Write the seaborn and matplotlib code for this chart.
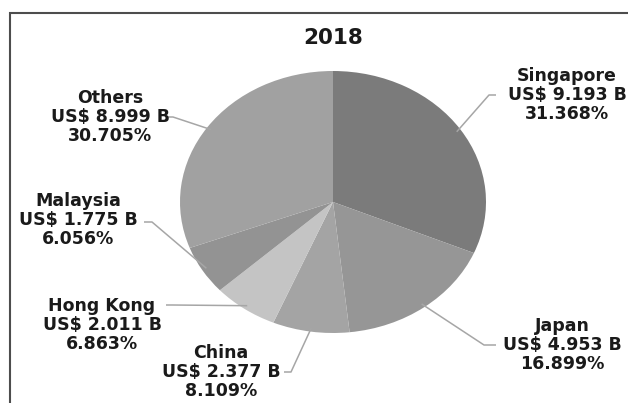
import matplotlib
matplotlib.use("Agg")
import matplotlib.pyplot as plt
import seaborn as sns
import numpy as np
from matplotlib.patches import Rectangle

# 2018 export destinations
countries = ["Singapore", "Japan", "China", "Hong Kong", "Malaysia", "Others"]
values_busd = [9.193, 4.953, 2.377, 2.011, 1.775, 8.999]
shares_pct = [31.368, 16.899, 8.109, 6.863, 6.056, 30.705]
chart_title = "2018"

slice_colors = ["#7b7b7b", "#969696", "#a4a4a4", "#c4c4c4", "#939393", "#a1a1a1"]

sns.set_theme(style="white")
plt.rcParams["font.family"] = ["DejaVu Sans"]

W, H = 628, 403
fig = plt.figure(figsize=(W / 100, H / 100), dpi=100)
fig.patch.set_facecolor("white")
ax = fig.add_axes([0, 0, 1, 1])

# pie centre and (elliptical) radii in pixels, y measured from the top
cx, cy, rx, ry = 333, 202, 153, 131

wedges, _ = ax.pie(shares_pct, colors=slice_colors, startangle=90,
                   counterclock=False, radius=1.0,
                   wedgeprops=dict(linewidth=0))
ax.set_aspect("auto")
ax.set_xlim(-cx / rx, (W - cx) / rx)
ax.set_ylim(-(H - cy) / ry, cy / ry)
ax.axis("off")


def px(x, y):
    """pixel position (y from top) -> data coordinates"""
    return ((x - cx) / rx, (cy - y) / ry)


# label block centre, leader-line start and elbow (pixels)
layout = {
    "Singapore": ((567, 95), (496, 95), (489, 95)),
    "Japan": ((562, 345), (496, 345), (484, 345)),
    "China": ((221, 372), (284, 372), (291, 372)),
    "Hong Kong": ((102, 325), (166, 305), (172, 305)),
    "Malaysia": ((78, 220), (144, 222), (152, 222)),
    "Others": ((110, 117), (167, 117), (173, 117)),
}

for w, name, val, pct in zip(wedges, countries, values_busd, shares_pct):
    mid = np.deg2rad((w.theta1 + w.theta2) / 2)
    tip = (0.97 * np.cos(mid), 0.97 * np.sin(mid))
    (tx, ty), start, elbow = layout[name]
    s, e = px(*start), px(*elbow)
    ax.plot([s[0], e[0], tip[0]], [s[1], e[1], tip[1]],
            color="#a6a6a6", lw=1.1, solid_capstyle="butt", zorder=3)
    ax.text(*px(tx, ty), f"{name}\nUS$ {val:.3f} B\n{pct:.3f}%",
            ha="center", va="center", fontsize=12.5, fontweight="bold",
            color="#1a1a1a", linespacing=1.1, zorder=4)

ax.text(*px(333, 38), chart_title, ha="center", va="center",
        fontsize=15.5, fontweight="bold", color="#1a1a1a")

# outer chart frame (runs off the right and bottom edges)
fig.add_artist(Rectangle((10 / W, -0.1), 1.2, (H - 13) / H + 0.1,
                         transform=fig.transFigure, fill=False,
                         edgecolor="#4d4d4d", lw=1.5, clip_on=False))

fig.savefig("out.png", dpi=100, facecolor="white")
